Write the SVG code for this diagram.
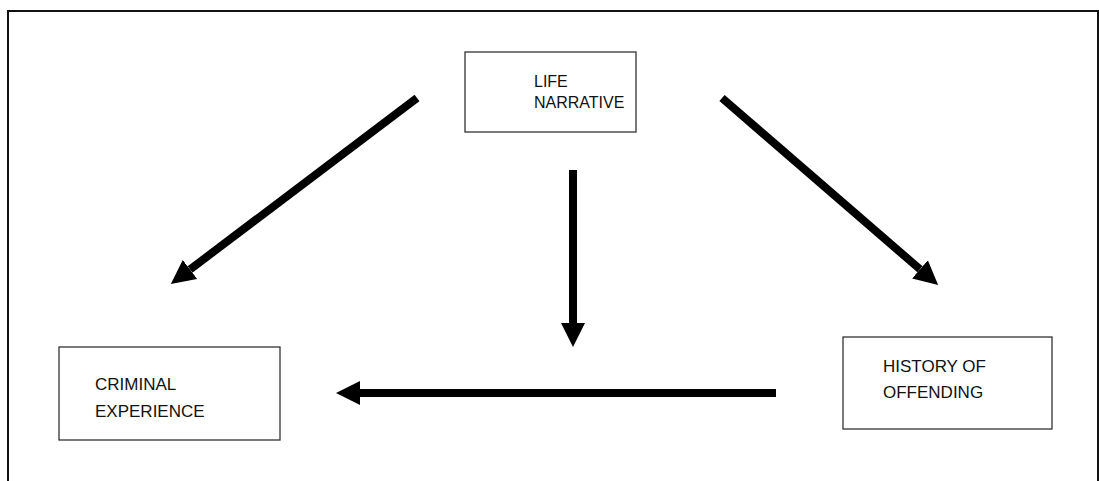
<svg xmlns="http://www.w3.org/2000/svg" width="1099" height="481" viewBox="0 0 1099 481">
  <style>
    .box { fill: #ffffff; stroke: #333333; stroke-width: 1.3; }
    .lbl { font-family: "Liberation Sans", Arial, sans-serif; fill: #111111; }
    .arr { stroke: #000000; stroke-width: 8; fill: none; marker-end: url(#head); }
    .frame { stroke: #111111; stroke-width: 2; fill: none; }
  </style>
  <defs>
    <marker id="head" viewBox="0 0 3 3" refX="0" refY="1.5" markerWidth="3" markerHeight="3" markerUnits="strokeWidth" orient="auto">
      <path d="M0,0 L3,1.5 L0,3 z" fill="#000000"/>
    </marker>
  </defs>
  <rect width="1099" height="481" fill="#ffffff"/>
  <g id="frame">
    <path class="frame" d="M8,481 L8,11 L1098,11 L1098,481"/>
  </g>
  <g id="connectors">
    <line class="arr" x1="417" y1="98" x2="190" y2="269.5"/>
    <line class="arr" x1="722" y1="98" x2="920" y2="269.3"/>
    <line class="arr" x1="573" y1="170" x2="573" y2="323"/>
    <line class="arr" x1="776" y1="393" x2="360" y2="393"/>
  </g>
  <g id="life-narrative">
    <rect class="box" x="465" y="52" width="171" height="80"/>
    <text class="lbl" font-size="16" x="534" y="87">LIFE</text>
    <text class="lbl" font-size="16" x="534" y="108">NARRATIVE</text>
  </g>
  <g id="criminal-experience">
    <rect class="box" x="59" y="347" width="221" height="93"/>
    <text class="lbl" font-size="17" x="95" y="390">CRIMINAL</text>
    <text class="lbl" font-size="17" x="95" y="417">EXPERIENCE</text>
  </g>
  <g id="history-of-offending">
    <rect class="box" x="843" y="337" width="209" height="92"/>
    <text class="lbl" font-size="17" x="883" y="372">HISTORY OF</text>
    <text class="lbl" font-size="17" x="883" y="398">OFFENDING</text>
  </g>
</svg>
